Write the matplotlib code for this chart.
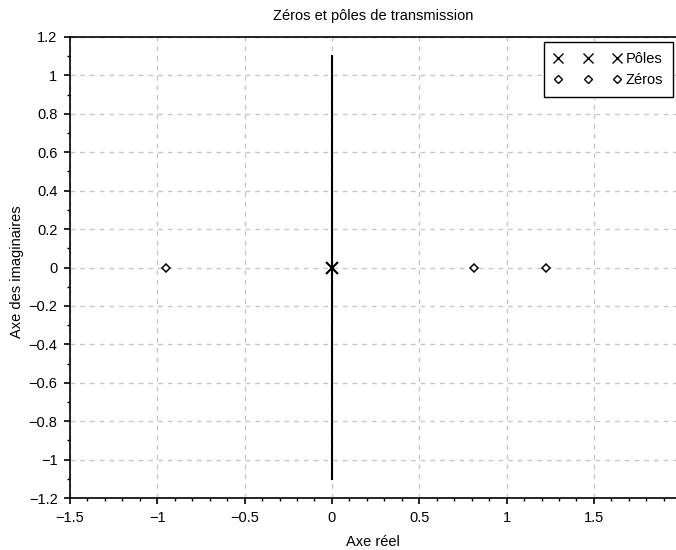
import matplotlib
matplotlib.use("Agg")
import matplotlib.pyplot as plt
from matplotlib.ticker import MultipleLocator

plt.rcParams['font.family'] = ['Liberation Sans', 'DejaVu Sans']

poles_re = [0.0]
poles_im = [0.0]
zeros_re = [-0.95, 0.815, 1.225]
zeros_im = [0.0, 0.0, 0.0]
axis_line_x = [0.0, 0.0]
axis_line_y = [-1.1, 1.1]
xticks = [-1.5, -1, -0.5, 0, 0.5, 1, 1.5]
xticklabels = ['\u22121.5', '\u22121', '\u22120.5', '0', '0.5', '1', '1.5']
yticks = [-1.2, -1, -0.8, -0.6, -0.4, -0.2, 0, 0.2, 0.4, 0.6, 0.8, 1, 1.2]
yticklabels = ['\u22121.2', '\u22121', '\u22120.8', '\u22120.6', '\u22120.4', '\u22120.2', '0',
               '0.2', '0.4', '0.6', '0.8', '1', '1.2']

FS = 10.5
W, H = 676, 550
L, R, T, B = 70, 676, 37, 498
fig = plt.figure(figsize=(W / 100, H / 100), dpi=100)
ax = fig.add_axes([L / W, 1 - B / H, (R - L) / W, (B - T) / H])
aw, ah = R - L, B - T

ax.plot(axis_line_x, axis_line_y, color='black', lw=1.5, zorder=2)
ax.plot(poles_re, poles_im, linestyle='none', marker='x', ms=8.5, mew=1.5,
        color='black', label='Pôles', zorder=3)
ax.plot(zeros_re, zeros_im, linestyle='none', marker='D', ms=4.3, mew=1.1,
        mfc='white', mec='black', label='Zéros', zorder=3)

ax.set_xlim(-1.5, 1.97)
ax.set_ylim(-1.2, 1.2)
ax.set_xticks(xticks)
ax.set_xticklabels(xticklabels)
ax.set_yticks(yticks)
ax.set_yticklabels(yticklabels)
ax.xaxis.set_minor_locator(MultipleLocator(0.1))
ax.yaxis.set_minor_locator(MultipleLocator(0.1))
ax.tick_params(which='major', direction='out', length=4.5, width=1.2, labelsize=FS, pad=4.5)
ax.tick_params(which='minor', direction='out', length=2.5, width=1.0)
ax.grid(True, which='major', linestyle=(0, (3.5, 3.5)), color='#c8c8c8', lw=1)
for s in ['left', 'bottom', 'top']:
    ax.spines[s].set_linewidth(1.2)
ax.spines['right'].set_visible(False)

ax.set_title('Zéros et pôles de transmission', fontsize=FS, pad=0,
             y=1 + (T - 16) / ah, va='center')
ax.set_xlabel('Axe réel', fontsize=FS, va='center')
ax.xaxis.set_label_coords(0.5, -(542 - B) / ah)
ax.set_ylabel('Axe des imaginaires', fontsize=FS, va='center')
ax.yaxis.set_label_coords(-(L - 17) / aw, 0.49)

leg = ax.legend(loc='upper right', bbox_to_anchor=(1 - 3 / aw, 1 - 5 / ah),
                borderaxespad=0, numpoints=3, handlelength=4.65, handletextpad=0.25,
                fontsize=FS, fancybox=False, framealpha=1, edgecolor='black',
                borderpad=0.7, labelspacing=0.45)
leg.get_frame().set_linewidth(1.0)
for h in leg.legend_handles:
    h.set_markeredgewidth(1.0)
leg.legend_handles[0].set_markersize(7.5)

fig.savefig('out.png', dpi=100)
